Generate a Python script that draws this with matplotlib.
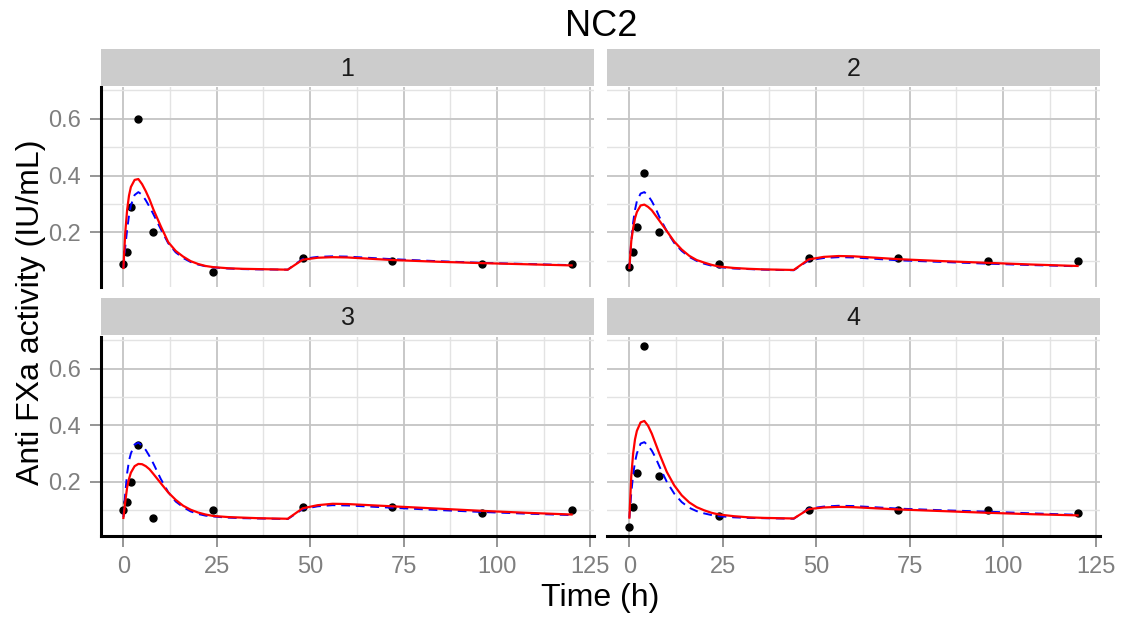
import matplotlib.pyplot as plt
from matplotlib.ticker import FixedLocator

plt.rcParams['font.family'] = ['Liberation Sans', 'DejaVu Sans']

# observed anti-FXa activity per subject
obs_time = [0, 1, 2, 4, 8, 24, 48, 72, 96, 120]
obs_1 = [0.09, 0.13, 0.29, 0.60, 0.20, 0.06, 0.11, 0.10, 0.09, 0.09]
obs_2 = [0.08, 0.13, 0.22, 0.41, 0.20, 0.09, 0.11, 0.11, 0.10, 0.10]
obs_3 = [0.10, 0.13, 0.20, 0.33, 0.07, 0.10, 0.11, 0.11, 0.09, 0.10]
obs_4 = [0.04, 0.11, 0.23, 0.68, 0.22, 0.08, 0.10, 0.10, 0.10, 0.09]

# model curves (red = pred, blue dashed = ipred)
sim_time = [0, 0.5, 1, 1.5, 2, 3, 4, 5, 6, 7, 8, 10, 12, 14, 16, 18, 20, 22, 24,
            28, 32, 36, 44, 48, 52, 56, 60, 72, 84, 96, 108, 120]
pred_1 = [0.075, 0.20, 0.28, 0.33, 0.36, 0.385, 0.388, 0.37, 0.345, 0.316, 0.282,
          0.222, 0.166, 0.135, 0.115, 0.099, 0.089, 0.082, 0.078,
          0.074, 0.072, 0.071, 0.069, 0.104, 0.111, 0.113, 0.112, 0.103, 0.097, 0.092, 0.088, 0.084]
ipred_1 = [0.075, 0.15, 0.21, 0.26, 0.295, 0.332, 0.342, 0.333, 0.313, 0.29, 0.265,
           0.212, 0.162, 0.13, 0.11, 0.096, 0.087, 0.081, 0.077,
           0.073, 0.071, 0.070, 0.069, 0.107, 0.114, 0.116, 0.115, 0.106, 0.099, 0.093, 0.089, 0.085]
pred_2 = [0.075, 0.17, 0.215, 0.25, 0.272, 0.295, 0.298, 0.29, 0.278, 0.26, 0.242,
          0.205, 0.168, 0.14, 0.118, 0.103, 0.094, 0.086, 0.080,
          0.075, 0.072, 0.070, 0.068, 0.105, 0.114, 0.117, 0.116, 0.106, 0.099, 0.093, 0.087, 0.082]
ipred_2 = [0.075, 0.17, 0.235, 0.28, 0.31, 0.337, 0.342, 0.33, 0.31, 0.285, 0.255,
           0.205, 0.163, 0.135, 0.114, 0.100, 0.090, 0.083, 0.078,
           0.073, 0.071, 0.069, 0.067, 0.102, 0.110, 0.113, 0.112, 0.102, 0.096, 0.090, 0.085, 0.081]
pred_3 = [0.072, 0.13, 0.18, 0.21, 0.232, 0.255, 0.263, 0.262, 0.255, 0.244, 0.228,
          0.195, 0.162, 0.136, 0.115, 0.101, 0.091, 0.084, 0.079,
          0.075, 0.073, 0.071, 0.069, 0.106, 0.117, 0.122, 0.121, 0.113, 0.105, 0.097, 0.090, 0.084]
ipred_3 = [0.075, 0.16, 0.23, 0.275, 0.30, 0.332, 0.338, 0.328, 0.312, 0.29, 0.265,
           0.21, 0.163, 0.13, 0.11, 0.095, 0.086, 0.080, 0.077,
           0.073, 0.071, 0.070, 0.068, 0.103, 0.113, 0.117, 0.116, 0.108, 0.100, 0.093, 0.087, 0.082]
pred_4 = [0.073, 0.22, 0.30, 0.35, 0.38, 0.41, 0.415, 0.398, 0.37, 0.335, 0.30,
          0.235, 0.187, 0.152, 0.127, 0.110, 0.099, 0.090, 0.084,
          0.078, 0.074, 0.072, 0.070, 0.103, 0.109, 0.111, 0.110, 0.102, 0.096, 0.090, 0.085, 0.081]
ipred_4 = [0.073, 0.16, 0.225, 0.27, 0.30, 0.335, 0.34, 0.328, 0.31, 0.285, 0.255,
           0.20, 0.158, 0.128, 0.108, 0.096, 0.088, 0.082, 0.078,
           0.074, 0.072, 0.071, 0.069, 0.105, 0.112, 0.115, 0.114, 0.105, 0.099, 0.094, 0.088, 0.083]

ids = ['1', '2', '3', '4']
obs_all = [obs_1, obs_2, obs_3, obs_4]
pred_all = [pred_1, pred_2, pred_3, pred_4]
ipred_all = [ipred_1, ipred_2, ipred_3, ipred_4]

W, H = 1126, 618
fig = plt.figure(figsize=(W / 100, H / 100), dpi=100)


def box(x0, y0, x1, y1):
    return [x0 / W, 1 - y1 / H, (x1 - x0) / W, (y1 - y0) / H]


cols = [(101, 594), (607, 1100)]
rows = [(87, 287), (337, 536)]
strips = [(49, 86), (298, 335)]

for k in range(4):
    r, c = divmod(k, 2)
    ax = fig.add_axes(box(cols[c][0], rows[r][0], cols[c][1], rows[r][1]))
    ax.set_xlim(-6, 126)
    ax.set_ylim(0.008, 0.712)
    ax.xaxis.set_major_locator(FixedLocator([0, 25, 50, 75, 100, 125]))
    ax.xaxis.set_minor_locator(FixedLocator([12.5, 37.5, 62.5, 87.5, 112.5]))
    ax.yaxis.set_major_locator(FixedLocator([0.2, 0.4, 0.6]))
    ax.yaxis.set_minor_locator(FixedLocator([0.1, 0.3, 0.5, 0.7]))
    ax.grid(which='major', color='#C4C4C4', lw=1.3)
    ax.grid(which='minor', color='#E3E3E3', lw=1.0)
    ax.set_axisbelow(True)
    for s in ax.spines.values():
        s.set_visible(False)
    ax.tick_params(which='minor', length=0)
    ax.tick_params(which='major', length=8, width=1.3, color='#8C8C8C',
                   labelcolor='#7F7F7F', labelsize=17, pad=6.5)
    if c == 0:
        ax.spines['left'].set_visible(True)
        ax.spines['left'].set_linewidth(2.2)
        ax.spines['left'].set_color('black')
    else:
        ax.tick_params(axis='y', left=False, labelleft=False)
    if r == 1:
        ax.spines['bottom'].set_visible(True)
        ax.spines['bottom'].set_linewidth(2.2)
        ax.spines['bottom'].set_color('black')
    else:
        ax.tick_params(axis='x', bottom=False, labelbottom=False)

    ax.plot(obs_time, obs_all[k], 'o', color='black', ms=5, zorder=2)
    ax.plot(sim_time, ipred_all[k], color='blue', lw=1.4, ls=(0, (4.5, 3)), zorder=3)
    ax.plot(sim_time, pred_all[k], color='red', lw=1.6, zorder=4)

    sax = fig.add_axes(box(cols[c][0], strips[r][0], cols[c][1], strips[r][1]))
    sax.set_facecolor('#CCCCCC')
    sax.set_xticks([])
    sax.set_yticks([])
    for s in sax.spines.values():
        s.set_visible(False)
    sax.text(0.5, 0.47, ids[k], ha='center', va='center', fontsize=18,
             color='#1A1A1A', transform=sax.transAxes)

fig.text(601 / W, 1 - 27 / H, 'NC2', ha='center', va='center', fontsize=26)
fig.text(600 / W, 1 - 598 / H, 'Time (h)', ha='center', va='center', fontsize=23)
fig.text(31 / W, 1 - 312 / H, 'Anti FXa activity (IU/mL)', ha='center', va='center',
         rotation=90, fontsize=23)

fig.savefig('out.png', dpi=100)
